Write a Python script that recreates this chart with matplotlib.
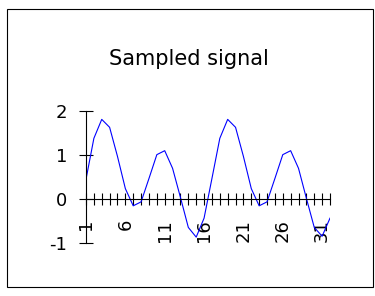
import matplotlib
matplotlib.use('Agg')
import matplotlib.pyplot as plt
from matplotlib.patches import Rectangle

plt.rcParams['font.family'] = ['DejaVu Sans']
plt.rcParams['axes.unicode_minus'] = False

# Sample numbers and signal values
samples = list(range(1, 33))
signal = [0.45, 1.38, 1.81, 1.63, 0.97, 0.24, -0.15, -0.06,
          0.47, 1.01, 1.10, 0.70, 0.04, -0.64, -0.86, -0.43,
          0.47, 1.38, 1.81, 1.63, 0.97, 0.24, -0.15, -0.06,
          0.47, 1.01, 1.10, 0.70, 0.02, -0.64, -0.84, -0.43]
y_ticks = [-1, 0, 1, 2]
x_labels = [str(s) if (s - 1) % 5 == 0 else '' for s in samples]

fig = plt.figure(figsize=(3.75, 2.96), dpi=100)
ax = fig.add_axes([86 / 375, 1 - 243.3 / 296, 244 / 375, 132.3 / 296])

ax.plot(samples, signal, color='#0000ff', lw=0.8)

ax.set_xlim(1, 32)
ax.set_ylim(-1, 2)
ax.spines['top'].set_visible(False)
ax.spines['right'].set_visible(False)
ax.spines['bottom'].set_position(('data', 0))
for s in ('left', 'bottom'):
    ax.spines[s].set_linewidth(0.8)

ax.set_yticks(y_ticks)
ax.set_xticks(samples)
ax.set_xticklabels(x_labels, rotation=90, va='top')
ax.tick_params(axis='y', direction='inout', length=10, width=0.8, pad=8.5, labelsize=13)
ax.tick_params(axis='x', direction='inout', length=8.6, width=0.8, pad=10, labelsize=13)

fig.text(189 / 375, 1 - 65 / 296, 'Sampled signal', ha='center', va='baseline',
         fontsize=15)

fig.add_artist(Rectangle((7 / 375, 1 - 286.7 / 296), 365.7 / 375, 278 / 296,
                         transform=fig.transFigure, fill=False, lw=0.8, ec='black'))

fig.savefig('out.png', dpi=100)
